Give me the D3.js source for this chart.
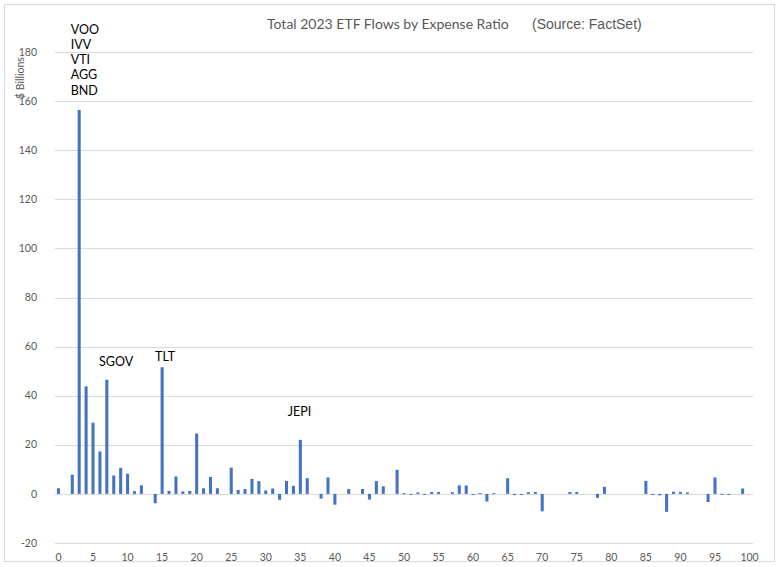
<!DOCTYPE html>
<html>
<head>
<meta charset="utf-8">
<script src="https://cdn.jsdelivr.net/npm/d3@7"></script>
<style>
  body { margin: 0; background: #fff; }
  svg text { font-family: Lato, "Open Sans", sans-serif; }
</style>
</head>
<body>
<svg id="chart"></svg>
<script>
// expense ratio in basis points, 0..100
var ratios = d3.range(0, 101);

// 2023 flows, $ billions (null = no funds at that ratio)
var flows = [
  2.3, null, 7.8, 156.4, 43.8, 29.0, 17.3, 46.5, 7.5, 10.6,
  8.2, 1.1, 3.5, null, -3.8, 51.6, 1.2, 7.1, 1.0, 1.2,
  24.6, 2.3, 6.9, 2.3, null, 10.7, 1.6, 2.0, 6.1, 5.2,
  1.4, 2.2, -2.4, 5.3, 3.3, 22.0, 6.4, null, -1.9, 6.7,
  -4.4, null, 2.0, null, 2.0, -2.3, 5.2, 3.1, null, 9.8,
  0.3, -0.4, 0.6, -0.3, 0.8, 0.8, null, 0.7, 3.5, 3.4,
  -0.2, 0.3, -3.1, 0.3, null, 6.4, -0.5, -0.3, 0.7, 0.8,
  -7.1, null, null, null, 0.8, 0.8, null, null, -1.6, 2.9,
  null, null, null, null, null, 5.3, -0.4, -0.6, -7.3, 0.9,
  0.8, 0.6, null, null, -3.3, 6.7, -0.2, -0.2, null, 2.2,
  null
];

var yTicks = [-20, 0, 20, 40, 60, 80, 100, 120, 140, 160, 180];
var xTicks = d3.range(0, 101, 5);

// callout text, anchored in chart units (ratio, $B)
var calloutLines = [["VOO", "IVV", "VTI", "AGG", "BND"], ["SGOV"], ["TLT"], ["JEPI"]];
var calloutRatio = [2.0, 6.1, 14.2, 33.4];
var calloutValue = [187.5, 52.3, 54.3, 31.9];

var width = 779, height = 567;
var svg = d3.select("#chart").attr("width", width).attr("height", height);

// outer frame
svg.append("rect")
    .attr("x", 4.5).attr("y", 4.5)
    .attr("width", 770).attr("height", 557)
    .attr("fill", "#fff")
    .attr("stroke", "#d9d9d9");

var x = d3.scaleBand()
    .domain(ratios)
    .range([55, 753])
    .paddingInner(0.56)
    .paddingOuter(0.28);

var y = d3.scaleLinear()
    .domain([-20, 180])
    .range([543, 52]);

// continuous position along the category axis (band start)
function xr(v) { return x(0) + v * x.step(); }

// gridlines
svg.append("g")
    .selectAll("line")
    .data(yTicks)
    .join("line")
    .attr("x1", 55).attr("x2", 753)
    .attr("y1", function(d) { return Math.round(y(d)) + 0.5; })
    .attr("y2", function(d) { return Math.round(y(d)) + 0.5; })
    .attr("stroke", "#d9d9d9")
    .attr("stroke-width", 1);

// y labels
svg.append("g")
    .selectAll("text")
    .data(yTicks)
    .join("text")
    .attr("x", 37)
    .attr("y", function(d) { return y(d); })
    .attr("dy", "0.35em")
    .attr("text-anchor", "end")
    .attr("font-size", 10.5)
    .attr("fill", "#595959")
    .text(function(d) { return d; });

// x labels
svg.append("g")
    .selectAll("text")
    .data(xTicks)
    .join("text")
    .attr("x", function(d) { return x(d) + x.bandwidth() / 2; })
    .attr("y", 557)
    .attr("dy", "0.35em")
    .attr("text-anchor", "middle")
    .attr("font-size", 10.5)
    .attr("fill", "#595959")
    .text(function(d) { return d; });

// bars
var bars = ratios.map(function(r, i) { return { r: r, v: flows[i] }; })
    .filter(function(d) { return d.v !== null; });

svg.append("g")
    .selectAll("rect")
    .data(bars)
    .join("rect")
    .attr("x", function(d) { return x(d.r); })
    .attr("width", x.bandwidth())
    .attr("y", function(d) { return y(Math.max(0, d.v)); })
    .attr("height", function(d) { return Math.max(1, Math.abs(y(d.v) - y(0))); })
    .attr("fill", "#4472c4");

// title
var title = svg.append("text")
    .attr("x", 267)
    .attr("y", 29)
    .attr("font-size", 14)
    .attr("fill", "#595959");
title.append("tspan").text("Total 2023 ETF Flows by Expense Ratio");
title.append("tspan")
    .attr("x", 532)
    .style("font-family", "'Liberation Sans', Arial, sans-serif")
    .text("(Source: FactSet)");

// y axis title
svg.append("text")
    .attr("transform", "translate(24,78) rotate(-90)")
    .attr("text-anchor", "middle")
    .attr("font-size", 10.5)
    .attr("fill", "#595959")
    .text("$ Billions");

// callout labels, one text per line
calloutLines.forEach(function(lines, k) {
    svg.append("g")
        .selectAll("text")
        .data(lines)
        .join("text")
        .attr("x", xr(calloutRatio[k]))
        .attr("y", function(d, i) { return y(calloutValue[k]) + i * 15.3; })
        .attr("font-size", 12.5)
        .attr("fill", "#000")
        .text(function(d) { return d; });
});
</script>
</body>
</html>
